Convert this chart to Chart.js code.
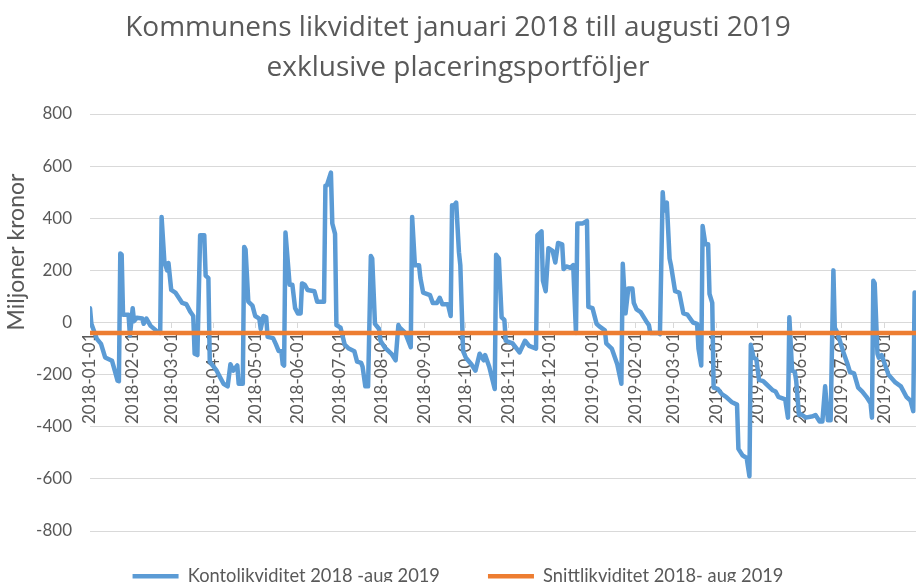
<!DOCTYPE html>
<html>
<head>
<meta charset="utf-8">
<script src="https://cdn.jsdelivr.net/npm/chart.js@4.4.1/dist/chart.umd.min.js"></script>
<style>
  html, body { margin: 0; padding: 0; background: #fff; }
</style>
</head>
<body>
<canvas id="likviditetChart" width="916" height="582"></canvas>
<script>
// dagar räknade från 2018-01-01
const kontoDays = [
  0, 1, 5, 8, 11, 16, 18, 20, 21, 22, 23, 24, 28, 29, 31, 32, 34, 38, 39, 41, 44, 49, 51,
  52, 54, 56, 57, 59, 62, 67, 70, 73, 75, 76, 78, 80, 83, 84, 86, 87, 92, 94, 97,
  100, 102, 104, 107, 108, 111, 112, 113, 115, 118, 120, 123, 124, 126, 128, 129, 133, 135, 137, 139,
  140, 141, 142, 145, 147, 149, 151, 153, 154, 156, 158, 163, 165, 170, 171, 172, 175, 176, 178, 179,
  182, 185, 188, 192, 194, 197, 198, 200, 202, 204, 205, 207, 210, 211, 214, 219, 222, 224, 225, 229,
  233, 234, 236, 239, 240, 242, 247, 249, 252, 254, 256, 260, 262, 263, 264, 266, 268, 269, 271, 273,
  277, 280, 283, 286, 287, 290, 294, 295, 297, 299, 301, 302, 307, 312, 316, 319, 324, 325, 328, 329,
  331, 333, 336, 338, 340, 343, 344, 346, 349, 351, 353, 354, 358, 361, 362, 365, 368, 370, 374, 375,
  379, 383, 386, 387, 389, 391, 394, 395, 397, 400, 404, 406, 407, 413, 414, 416, 417, 419, 421, 422,
  425, 428, 431, 434, 438, 441, 442, 444, 445, 447, 449, 450, 452, 453, 456, 459, 462, 466, 470, 471,
  474, 477, 479, 480, 482, 484, 486, 489, 491, 496, 498, 500, 505, 507, 508, 510, 512, 513, 515, 516,
  520, 525, 527, 530, 532, 534, 536, 538, 540, 541, 543, 547, 550, 552, 555, 558, 561, 564, 567, 568,
  569, 570, 572, 573, 575, 580, 585, 589, 593, 596, 598, 599
];
const kontoValues = [
  55, -5, -63, -82, -134, -147, -185, -223, -225, 265, 260, 30, 30, -50, 55, 5, 18, 15, -5, 15, -13, -35, -40,
  405, 235, 200, 228, 125, 115, 75, 70, 40, 25, -120, -125, 335, 335, 180, 170, -150, -185, -205, -235,
  -245, -160, -185, -165, -235, -235, 290, 280, 80, 65, 25, 15, -25, 25, 20, -55, -60, -83, -109, -110,
  -160, -165, 345, 145, 145, 55, 35, 35, 150, 145, 125, 120, 80, 80, 525, 525, 575, 380, 340, -10,
  -20, -85, -100, -110, -150, -155, -170, -245, -245, 255, 245, -5, -25, -70, -95, -120, -145, -10, -20, -40,
  -95, 405, 220, 220, 170, 115, 105, 75, 75, 95, 70, 70, 25, 450, 445, 460, 270, 220, -110, -135,
  -160, -185, -120, -145, -125, -170, -255, 260, 245, 20, 10, -70, -80, -115, -70, -90, -100, 335, 350, 160,
  120, 285, 275, 230, 305, 300, 205, 215, 210, 220, -40, 380, 380, 390, 60, 55, -5, -15, -30, -80,
  -100, -160, -235, 225, 35, 130, 130, 75, 50, 40, 5, -10, -40, -40, -45, 500, 430, 460, 245, 220,
  120, 115, 35, 30, 0, -5, -100, -165, 370, 300, 300, 110, 75, -250, -255, -275, -285, -305, -315, -485,
  -510, -520, -590, -85, -135, -140, -220, -225, -235, -260, -265, -285, -295, -365, 20, -185, -190, -225, -355, -350,
  -365, -360, -355, -380, -380, -245, -375, -375, 200, -20, -40, -110, -155, -190, -195, -250, -265, -285, -310, -365,
  160, 150, -120, -135, -125, -200, -230, -245, -285, -300, -340, 115
];
const snittDays = [0, 600];
const snittValues = [-40, -40];

const monthLabels = [
  '2018-01-01', '2018-02-01', '2018-03-01', '2018-04-01', '2018-05-01', '2018-06-01', '2018-07-01',
  '2018-08-01', '2018-09-01', '2018-10-01', '2018-11-01', '2018-12-01', '2019-01-01', '2019-02-01',
  '2019-03-01', '2019-04-01', '2019-05-01', '2019-06-01', '2019-07-01', '2019-08-01'
];

const DAY = 86400000;
const start = Date.parse('2018-01-01');
const monthDays = monthLabels.map(d => Math.round((Date.parse(d) - start) / DAY));

const toPoints = (xs, ys) => xs.map((x, i) => ({ x: x, y: ys[i] }));

const grey = '#595959';
const fontFam = 'Lato, "Open Sans", sans-serif';

// y-axelns titel sitter högre upp än mitten i originalet
const yTitle = {
  id: 'yTitle',
  afterDraw(chart) {
    const c = chart.ctx;
    c.save();
    c.translate(17, 252);
    c.rotate(-Math.PI / 2);
    c.font = '23px ' + fontFam;
    c.fillStyle = grey;
    c.textAlign = 'center';
    c.textBaseline = 'middle';
    c.fillText('Miljoner kronor', 0, 0);
    c.restore();
  }
};

// legenden: lägre höjd än vad padding ger, men samma avstånd mellan posterna
const legendBox = {
  id: 'legendBox',
  beforeInit(chart) {
    const lg = chart.legend;
    const fit = lg.fit;
    const draw = lg.draw;
    lg.fit = function () { fit.call(this); this.height = 51; this.bottom = this.top + 51; };
    lg.draw = function () {
      const t = this.top;
      this.top = t - 12;
      draw.call(this);
      this.top = t;
    };
  }
};

const ctx = document.getElementById('likviditetChart').getContext('2d');
new Chart(ctx, {
  type: 'line',
  data: {
    datasets: [{
      label: 'Kontolikviditet 2018 -aug 2019',
      data: toPoints(kontoDays, kontoValues),
      borderColor: '#5b9bd5',
      backgroundColor: '#5b9bd5',
      borderWidth: 4.5,
      borderCapStyle: 'round',
      borderJoinStyle: 'round',
      pointRadius: 0,
      tension: 0,
      order: 2
    }, {
      label: 'Snittlikviditet 2018- aug 2019',
      data: toPoints(snittDays, snittValues),
      borderColor: '#ed7d31',
      backgroundColor: '#ed7d31',
      borderWidth: 4.5,
      borderCapStyle: 'round',
      pointRadius: 0,
      order: 1
    }]
  },
  options: {
    responsive: false,
    animation: false,
    layout: { padding: 0 },
    plugins: {
      title: {
        display: true,
        text: ['Kommunens likviditet januari 2018 till augusti 2019', 'exklusive placeringsportföljer'],
        color: grey,
        font: { family: '"Open Sans", sans-serif', size: 28, weight: 'normal', lineHeight: 40 / 28 },
        padding: { top: 8, bottom: 26 }
      },
      legend: {
        position: 'bottom',
        labels: {
          usePointStyle: true,
          pointStyle: 'line',
          pointStyleWidth: 46,
          color: grey,
          font: { family: fontFam, size: 18.3 },
          padding: 48,
          sort: (a, b) => a.datasetIndex - b.datasetIndex
        }
      },
      tooltip: { enabled: false }
    },
    scales: {
      x: {
        type: 'linear',
        position: { y: 0 },
        min: 0,
        max: 600,
        afterBuildTicks: scale => {
          scale.ticks = monthDays.map(v => ({ value: v }));
        },
        grid: { drawOnChartArea: false, drawTicks: true, tickLength: 5, color: '#d9d9d9' },
        border: { display: true, color: '#d9d9d9' },
        ticks: {
          autoSkip: false,
          minRotation: 90,
          maxRotation: 90,
          padding: 5,
          color: grey,
          font: { family: fontFam, size: 17 },
          callback: (value, index) => monthLabels[index]
        }
      },
      y: {
        min: -800,
        max: 800,
        afterFit: scale => { scale.width = 90; },
        grid: { color: '#d9d9d9', drawTicks: false },
        border: { display: false },
        ticks: {
          stepSize: 200,
          padding: 18,
          color: grey,
          font: { family: fontFam, size: 17 }
        }
      }
    }
  },
  plugins: [yTitle, legendBox]
});
</script>
</body>
</html>
